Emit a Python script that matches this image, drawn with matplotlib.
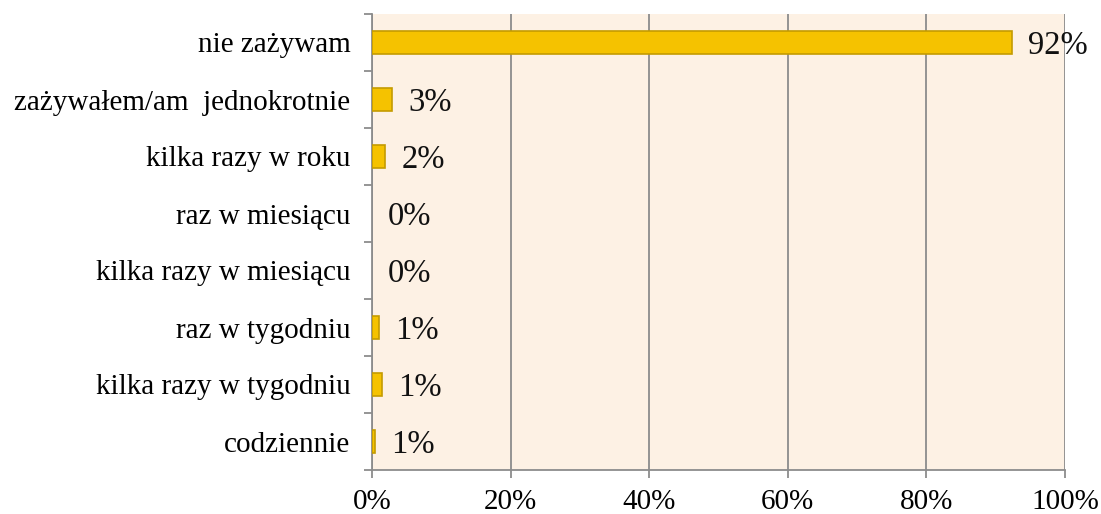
import matplotlib
matplotlib.use("Agg")
import matplotlib.pyplot as plt
import numpy as np

categories = ["nie zażywam", "zażywałem/am  jednokrotnie", "kilka razy w roku",
              "raz w miesiącu", "kilka razy w miesiącu", "raz w tygodniu",
              "kilka razy w tygodniu", "codziennie"]
values = [92.3, 2.9, 1.9, 0.0, 0.0, 1.0, 1.5, 0.5]
value_labels = ["92%", "3%", "2%", "0%", "0%", "1%", "1%", "1%"]
x_ticks = [0, 20, 40, 60, 80, 100]
x_tick_labels = ["0%", "20%", "40%", "60%", "80%", "100%"]

plt.rcParams['font.family'] = ['Liberation Serif', 'DejaVu Serif']
FS = 21
FS_VAL = 23.5

fig = plt.figure(figsize=(11.01, 5.14), dpi=100)
ax = fig.add_axes([372/1101, 1-470/514, (1065-372)/1101, (470-14)/514])
ax.set_facecolor("#FDF1E4")

y = np.arange(len(categories))
lws = [1.2 if v > 0 else 0 for v in values]
ax.barh(y, values, height=0.4, color="#F5C200", edgecolor="#C49B00", linewidth=lws, zorder=3)
for yi, v, lab in zip(y, values, value_labels):
    ax.annotate(lab, (v, yi), xytext=(11.5, -2), textcoords="offset points",
                ha="left", va="center", fontsize=FS_VAL, color="#111111", zorder=4)

ax.set_xlim(0, 100)
ax.set_ylim(len(categories) - 0.5, -0.5)
ax.set_xticks(x_ticks)
ax.set_xticklabels(x_tick_labels, fontsize=FS)
ax.set_yticks(y)
ax.set_yticklabels(categories, fontsize=FS)
ax.set_yticks(np.arange(-0.5, len(categories) + 0.5, 1), minor=True)
ax.tick_params(axis="y", which="major", length=0, pad=15.5)
ax.tick_params(axis="y", which="minor", length=6, width=1.3, color="#8C8C8C")
ax.tick_params(axis="x", which="major", length=6, width=1.3, color="#8C8C8C", pad=8)
ax.xaxis.grid(True, color="#8C8C8C", linewidth=1.3, zorder=1)
ax.set_axisbelow(True)
for s in ["top", "right"]:
    ax.spines[s].set_visible(False)
for s in ["left", "bottom"]:
    ax.spines[s].set_color("#8C8C8C")
    ax.spines[s].set_linewidth(1.3)

fig.savefig("out.png", dpi=100)
